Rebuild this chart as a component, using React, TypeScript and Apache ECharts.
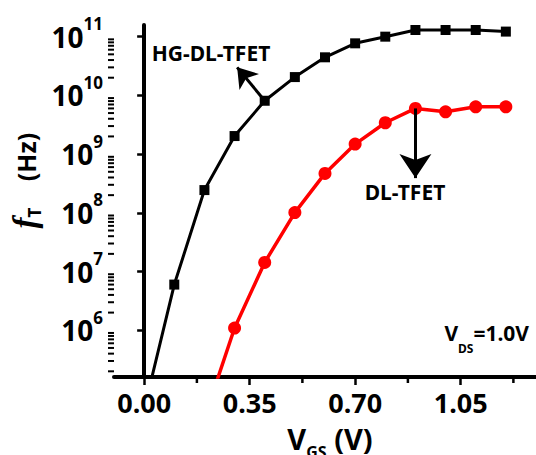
import React, { useEffect, useRef } from 'react';
import * as echarts from 'echarts';

// ---- data ----
const hgVgs = [0.0, 0.1, 0.2, 0.3, 0.4, 0.5, 0.6, 0.7, 0.8, 0.9, 1.0, 1.1, 1.2];
const hgFt = [4.5e4, 6.0e6, 2.44e8, 2.03e9, 8.1e9, 2.05e10, 4.45e10, 7.7e10, 1.0e11, 1.3e11, 1.3e11, 1.3e11, 1.22e11];
const dlVgs = [0.2, 0.3, 0.4, 0.5, 0.6, 0.7, 0.8, 0.9, 1.0, 1.1, 1.2];
const dlFt = [3.2e4, 1.09e6, 1.43e7, 1.01e8, 4.69e8, 1.48e9, 3.42e9, 6.0e9, 5.26e9, 6.4e9, 6.4e9];

const xMajorTicks = [0, 0.35, 0.7, 1.05];
const xMinorTicks = [0.175, 0.525, 0.875, 1.225];
const yMajorTicks = [1e6, 1e7, 1e8, 1e9, 1e10, 1e11];
const yMinorMultipliers = [2, 3, 4, 5, 6, 7, 8, 9];
const yDecades = [5, 6, 7, 8, 9, 10, 11];

const X_MIN = -0.1;
const X_MAX = 1.3;
const Y_MIN = 1.6e5;
const Y_MAX = 1.58e11;

const hgArrow = [[0.4, 8.1e9], [0.3085, 3.0e10]];
const dlArrow = [[0.9, 6.0e9], [0.9, 3.9e8]];

const FONT = '"Noto Sans", "Open Sans", sans-serif';

export default function App() {
  const ref = useRef<HTMLDivElement>(null);
  useEffect(() => {
    if (!ref.current) return;
    const chart = echarts.init(ref.current, null, { renderer: 'svg' });

    const minorData: number[][] = [];
    yDecades.forEach((d) => {
      yMinorMultipliers.forEach((m) => {
        const v = m * Math.pow(10, d);
        if (v > Y_MIN && v < Y_MAX) minorData.push([X_MIN, v, 0]);
      });
    });
    xMinorTicks.forEach((v) => minorData.push([v, Y_MIN, 1]));

    const option: any = {
      animation: false,
      textStyle: { fontFamily: FONT },
      grid: { left: 114, top: 25, right: 0, bottom: 78, containLabel: false, outerBoundsMode: 'none' },
      xAxis: {
        type: 'value',
        min: X_MIN,
        max: X_MAX,
        axisLine: { show: true, onZero: false, lineStyle: { color: '#000', width: 4 } },
        axisTick: { show: true, length: 8, customValues: xMajorTicks, lineStyle: { color: '#000', width: 2.5 } },
        axisLabel: {
          customValues: xMajorTicks,
          formatter: (v: number) => v.toFixed(2),
          color: '#000',
          fontFamily: FONT,
          fontWeight: 'bold',
          fontSize: 27,
          margin: 12,
        },
        splitLine: { show: false },
      },
      yAxis: {
        type: 'log',
        logBase: 10,
        min: Y_MIN,
        max: Y_MAX,
        axisLine: { show: true, lineStyle: { color: '#000', width: 4 } },
        axisTick: { show: true, length: 7, customValues: yMajorTicks, lineStyle: { color: '#000', width: 2.5 } },
        axisLabel: {
          customValues: yMajorTicks,
          formatter: (v: number) => `{b|10}{s|${Math.round(Math.log10(v))}}`,
          margin: 11,
          color: '#000',
          rich: {
            b: { fontFamily: FONT, fontWeight: 'bold', fontSize: 28, color: '#000' },
            s: { fontFamily: FONT, fontWeight: 'bold', fontSize: 17, color: '#000', padding: [0, 0, 26, 0] },
          },
        },
        splitLine: { show: false },
        minorTick: { show: false },
      },
      series: [
        {
          type: 'custom',
          name: 'minorTicks',
          coordinateSystem: 'cartesian2d',
          silent: true,
          clip: false,
          encode: { x: 0, y: 1 },
          data: minorData,
          renderItem: (params: any, api: any) => {
            const kind = api.value(2);
            const p = api.coord([api.value(0), api.value(1)]);
            if (kind === 0) {
              return { type: 'line', shape: { x1: p[0], y1: p[1], x2: p[0] - 6, y2: p[1] }, style: { stroke: '#000', lineWidth: 2 } };
            }
            return { type: 'line', shape: { x1: p[0], y1: p[1], x2: p[0], y2: p[1] + 6 }, style: { stroke: '#000', lineWidth: 2.5 } };
          },
        },
        {
          type: 'line',
          name: 'HG-DL-TFET',
          data: hgVgs.map((x, i) => [x, hgFt[i]]),
          symbol: 'rect',
          symbolSize: 10,
          clip: true,
          lineStyle: { color: '#000', width: 3 },
          itemStyle: { color: '#000' },
          markLine: {
            silent: true,
            symbol: ['none', 'arrow'],
            symbolSize: 19,
            label: { show: false },
            lineStyle: { color: '#000', width: 3, type: 'solid' },
            data: [[{ coord: hgArrow[0] }, { coord: hgArrow[1] }]],
          },
        },
        {
          type: 'line',
          name: 'DL-TFET',
          data: dlVgs.map((x, i) => [x, dlFt[i]]),
          symbol: 'circle',
          symbolSize: 13,
          clip: true,
          lineStyle: { color: '#ff0000', width: 3.5 },
          itemStyle: { color: '#ff0000' },
          markLine: {
            silent: true,
            symbol: ['none', 'arrow'],
            symbolSize: 24,
            label: { show: false },
            lineStyle: { color: '#000', width: 3, type: 'solid' },
            data: [[{ coord: dlArrow[0] }, { coord: dlArrow[1] }]],
          },
        },
      ],
      graphic: [
        {
          type: 'text',
          x: 211,
          y: 53,
          style: { text: 'HG-DL-TFET', fill: '#000', fontFamily: FONT, fontWeight: 'bold', fontSize: 21, align: 'center', verticalAlign: 'middle' },
        },
        {
          type: 'text',
          x: 405,
          y: 192,
          style: { text: 'DL-TFET', fill: '#000', fontFamily: FONT, fontWeight: 'bold', fontSize: 21, align: 'center', verticalAlign: 'middle' },
        },
        {
          type: 'text',
          x: 529,
          y: 333,
          style: {
            text: '{m|V}{s|DS}{m|=1.0V}',
            align: 'right',
            verticalAlign: 'middle',
            rich: {
              m: { fontFamily: FONT, fontWeight: 'bold', fontSize: 21, fill: '#000', color: '#000' },
              s: { fontFamily: FONT, fontWeight: 'bold', fontSize: 12, fill: '#000', color: '#000', padding: [30, 0, 0, 0] },
            },
          },
        },
        {
          type: 'text',
          x: 330,
          y: 438,
          style: {
            text: '{m|V}{s|GS}{m| (V)}',
            align: 'center',
            verticalAlign: 'middle',
            rich: {
              m: { fontFamily: FONT, fontWeight: 'bold', fontSize: 29, fill: '#000', color: '#000' },
              s: { fontFamily: FONT, fontWeight: 'bold', fontSize: 16, fill: '#000', color: '#000', padding: [28, 0, 0, 0] },
            },
          },
        },
        {
          type: 'text',
          x: 26,
          y: 157,
          rotation: Math.PI / 2,
          style: { text: '(Hz)', fill: '#000', fontFamily: FONT, fontWeight: 'bold', fontSize: 25, align: 'center', verticalAlign: 'middle' },
        },
        {
          type: 'text',
          x: 25,
          y: 218,
          rotation: Math.PI / 2,
          style: {
            text: '{f|f}{t|T}',
            align: 'center',
            verticalAlign: 'middle',
            rich: {
              f: { fontFamily: '"Liberation Serif", serif', fontStyle: 'italic', fontWeight: 'bold', fontSize: 33, fill: '#000', color: '#000' },
              t: { fontFamily: FONT, fontWeight: 'bold', fontSize: 17, fill: '#000', color: '#000', padding: [18, 0, 0, 0] },
            },
          },
        },
      ],
    };
    chart.setOption(option);
    return () => chart.dispose();
  }, []);
  return <div ref={ref} style={{ position: 'fixed', left: 0, top: 0, width: 536, height: 455, background: '#fff' }} />;
}
